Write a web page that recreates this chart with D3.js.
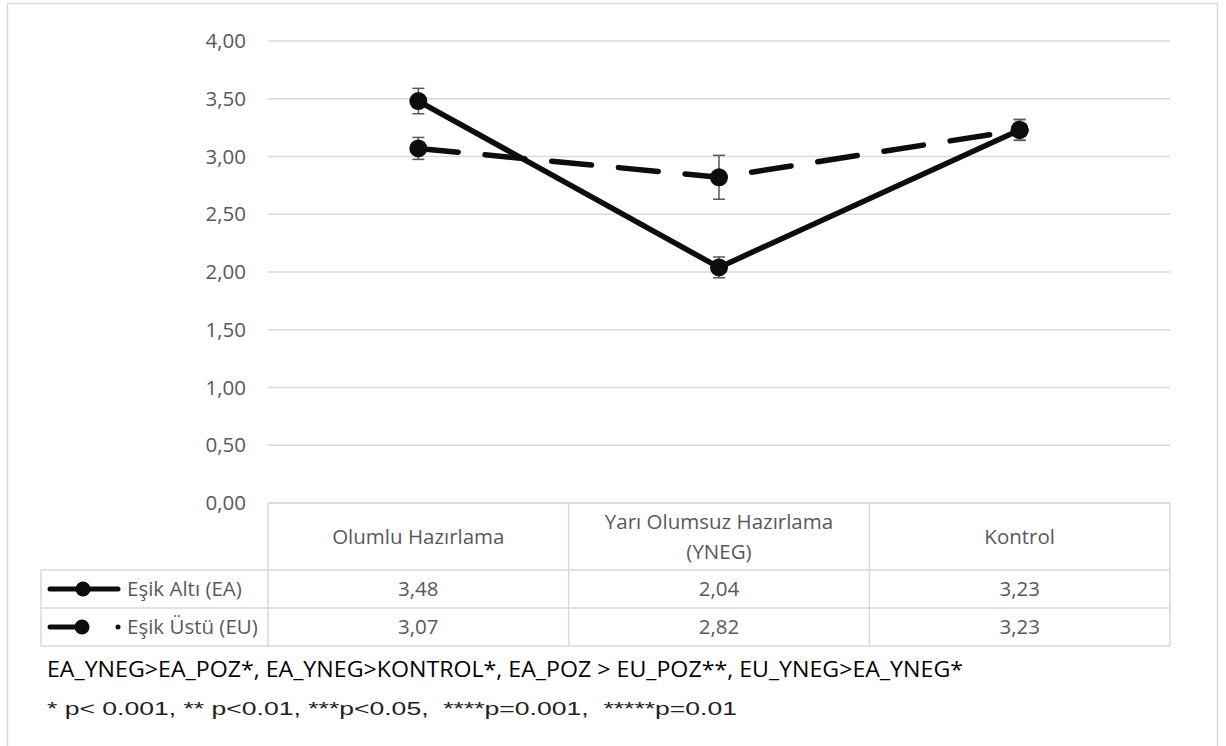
<!DOCTYPE html>
<html>
<head>
<meta charset="utf-8">
<script src="https://cdn.jsdelivr.net/npm/d3@7"></script>
<style>
body { margin: 0; background: #fff; }
svg { display: block; }
</style>
</head>
<body>
<script>
// chart data
const categories = ["Olumlu Hazırlama", "Yarı Olumsuz Hazırlama (YNEG)", "Kontrol"]
const categoryLines = [["Olumlu Hazırlama"], ["Yarı Olumsuz Hazırlama", "(YNEG)"], ["Kontrol"]]
const seriesNames = ["Eşik Altı (EA)", "Eşik Üstü (EU)"]
const eaValues = [3.48, 2.04, 3.23]
const euValues = [3.07, 2.82, 3.23]
const eaErrors = [0.11, 0.09, 0.09]
const euErrors = [0.095, 0.19, 0.09]
const yTicks = [0, 0.5, 1, 1.5, 2, 2.5, 3, 3.5, 4]
const noteLine1 = "EA_YNEG>EA_POZ*, EA_YNEG>KONTROL*, EA_POZ > EU_POZ**, EU_YNEG>EA_YNEG*"
const noteLine2 = "* p< 0.001, ** p<0.01, ***p<0.05,  ****p=0.001,  *****p=0.01"

const width = 1226, height = 746
const font = "'Open Sans', sans-serif"
const grey = "#595959"
const lineCol = "#d9d9d9"
const ink = "#0d0d0d"

const svg = d3.select("body").append("svg")
    .attr("width", width)
    .attr("height", height)

// outer frame
svg.append("rect")
    .attr("x", 7.5).attr("y", 3.5)
    .attr("width", 1210).attr("height", 760)
    .attr("fill", "none")
    .attr("stroke", lineCol)
    .attr("stroke-width", 1.5)

const x = d3.scaleBand().domain(categories).range([268, 1170])
const y = d3.scaleLinear().domain([0, 4]).range([503, 41])
const fmt = d => d3.format(".2f")(d).replace(".", ",")

// gridlines
svg.selectAll(".grid")
    .data(yTicks)
    .enter()
    .append("line")
    .attr("class", "grid")
    .attr("x1", 268).attr("x2", 1170)
    .attr("y1", d => y(d)).attr("y2", d => y(d))
    .attr("stroke", lineCol)
    .attr("stroke-width", 1.5)

// y tick labels
svg.selectAll(".ytick")
    .data(yTicks)
    .enter()
    .append("text")
    .attr("class", "ytick")
    .attr("x", 246)
    .attr("y", d => y(d))
    .attr("dy", "0.35em")
    .attr("text-anchor", "end")
    .style("font-family", font)
    .style("font-size", "20.5px")
    .style("fill", grey)
    .text(fmt)

// data table
const tableTop = 503, headBottom = 570, row1Bottom = 608, row2Bottom = 646
const rowLeft = 41
const tg = svg.append("g").attr("stroke", lineCol).attr("stroke-width", 1.5)
const hlines = [[268, tableTop], [rowLeft, headBottom], [rowLeft, row1Bottom], [rowLeft, row2Bottom]]
hlines.forEach(h => tg.append("line").attr("x1", h[0]).attr("x2", 1170).attr("y1", h[1]).attr("y2", h[1]))
tg.append("line").attr("x1", rowLeft).attr("x2", rowLeft).attr("y1", headBottom).attr("y2", row2Bottom)
const colEdges = categories.map(c => x(c)).concat([x.range()[1]])
colEdges.forEach(cx => tg.append("line").attr("x1", cx).attr("x2", cx).attr("y1", tableTop).attr("y2", row2Bottom))

// header labels
categoryLines.forEach((lines, i) => {
    const cx = x(categories[i]) + x.bandwidth() / 2
    const mid = (tableTop + headBottom) / 2
    lines.forEach((t, j) => {
        svg.append("text")
            .attr("x", cx)
            .attr("y", mid + (j - (lines.length - 1) / 2) * 30)
            .attr("dy", "0.35em")
            .attr("text-anchor", "middle")
            .style("font-family", font)
            .style("font-size", "20.5px")
            .style("fill", grey)
            .text(t)
    })
})

// value rows
const rows = [
    { name: seriesNames[0], values: eaValues, y: (headBottom + row1Bottom) / 2 },
    { name: seriesNames[1], values: euValues, y: (row1Bottom + row2Bottom) / 2 }
]
rows.forEach(r => {
    svg.selectAll(null)
        .data(r.values)
        .enter()
        .append("text")
        .attr("x", (d, i) => x(categories[i]) + x.bandwidth() / 2)
        .attr("y", r.y)
        .attr("dy", "0.35em")
        .attr("text-anchor", "middle")
        .style("font-family", font)
        .style("font-size", "20.5px")
        .style("fill", grey)
        .text(fmt)
    svg.append("text")
        .attr("x", 127)
        .attr("y", r.y)
        .attr("dy", "0.35em")
        .style("font-family", font)
        .style("font-size", "20.5px")
        .style("fill", grey)
        .text(r.name)
})

// legend keys in the row headers
svg.append("line")
    .attr("x1", 50).attr("x2", 118)
    .attr("y1", rows[0].y).attr("y2", rows[0].y)
    .attr("stroke", ink).attr("stroke-width", 5).attr("stroke-linecap", "round")
svg.append("circle").attr("cx", 83).attr("cy", rows[0].y).attr("r", 7.5).attr("fill", ink)
svg.append("line")
    .attr("x1", 50).attr("x2", 82)
    .attr("y1", rows[1].y).attr("y2", rows[1].y)
    .attr("stroke", ink).attr("stroke-width", 5).attr("stroke-linecap", "round")
svg.append("circle").attr("cx", 82).attr("cy", rows[1].y).attr("r", 7.5).attr("fill", ink)
svg.append("circle").attr("cx", 118).attr("cy", rows[1].y).attr("r", 2.5).attr("fill", ink)

// series
const series = [
    { values: eaValues, errors: eaErrors, dash: null },
    { values: euValues, errors: euErrors, dash: "40,27" }
]
const cxOf = i => x(categories[i]) + x.bandwidth() / 2

series.forEach(s => {
    const eg = svg.append("g").attr("stroke", grey).attr("stroke-width", 1.5)
    s.values.forEach((v, i) => {
        const cx = cxOf(i)
        const top = y(v + s.errors[i]), bot = y(v - s.errors[i])
        eg.append("line").attr("x1", cx).attr("x2", cx).attr("y1", top).attr("y2", bot)
        eg.append("line").attr("x1", cx - 6).attr("x2", cx + 6).attr("y1", top).attr("y2", top)
        eg.append("line").attr("x1", cx - 6).attr("x2", cx + 6).attr("y1", bot).attr("y2", bot)
    })
})

const line = d3.line()
    .x((d, i) => cxOf(i))
    .y(d => y(d))

series.forEach(s => {
    svg.append("path")
        .datum(s.values)
        .attr("d", line)
        .attr("fill", "none")
        .attr("stroke", ink)
        .attr("stroke-width", 5.5)
        .attr("stroke-linecap", "round")
        .attr("stroke-linejoin", "round")
        .attr("stroke-dasharray", s.dash)
})

series.forEach(s => {
    svg.selectAll(null)
        .data(s.values)
        .enter()
        .append("circle")
        .attr("cx", (d, i) => cxOf(i))
        .attr("cy", d => y(d))
        .attr("r", 9)
        .attr("fill", ink)
})

// notes under the chart
svg.append("text")
    .attr("x", 47).attr("y", 677)
    .attr("textLength", 916)
    .attr("lengthAdjust", "spacingAndGlyphs")
    .style("font-family", font)
    .style("font-size", "22px")
    .style("fill", "#000")
    .text(noteLine1)
svg.append("text")
    .attr("x", 47).attr("y", 715)
    .attr("textLength", 690)
    .attr("lengthAdjust", "spacingAndGlyphs")
    .attr("xml:space", "preserve")
    .style("font-family", "'Liberation Sans', Arial, sans-serif")
    .style("font-size", "19px")
    .style("white-space", "pre")
    .style("fill", "#222")
    .text(noteLine2)
</script>
</body>
</html>
